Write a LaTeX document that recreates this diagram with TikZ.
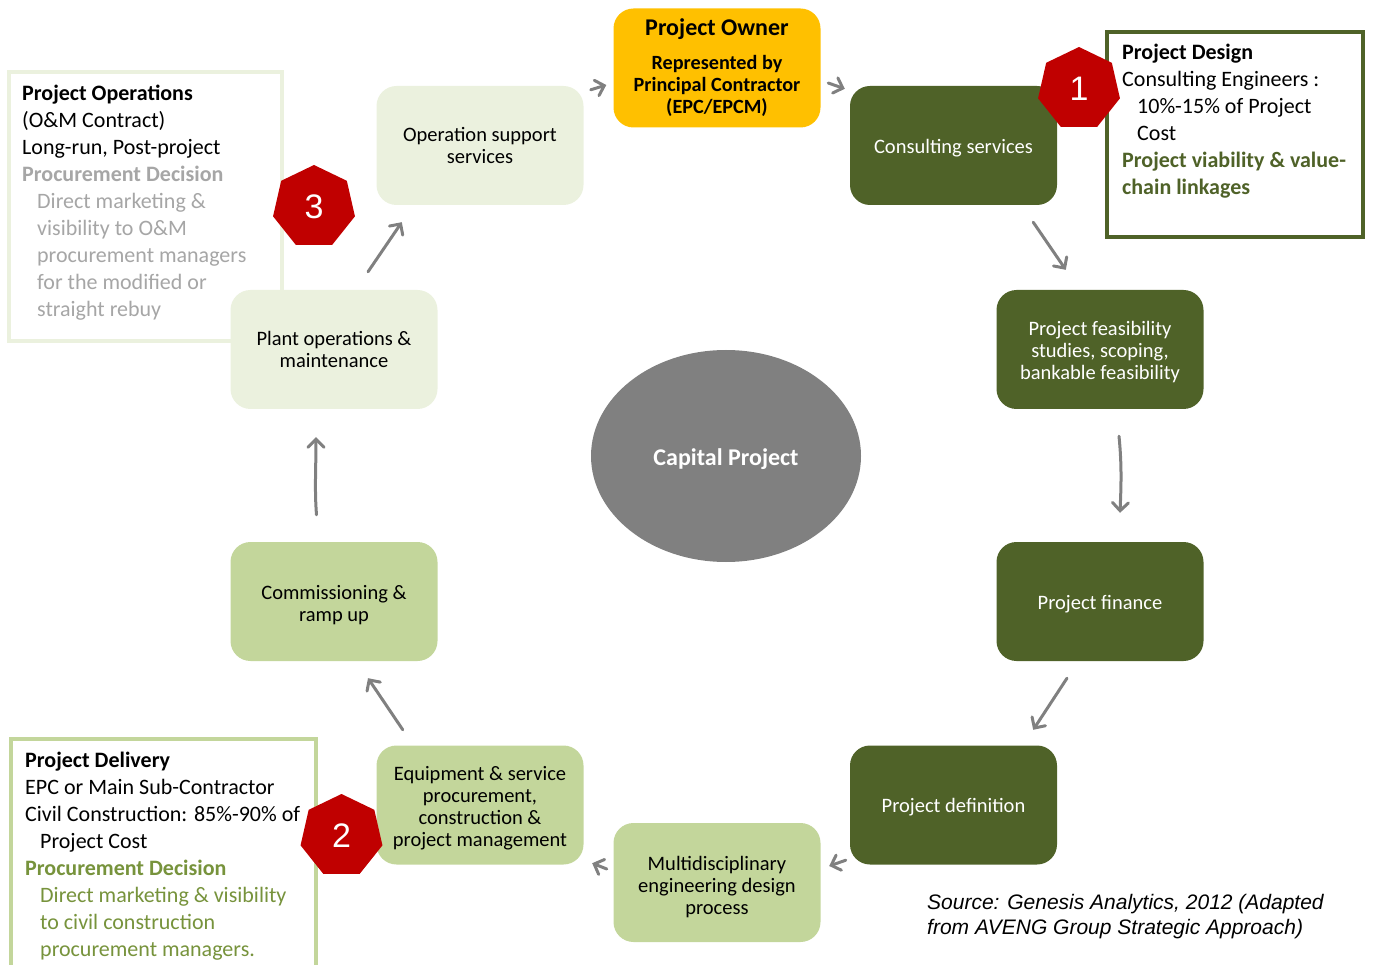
\documentclass[tikz,border=0pt]{standalone}
\usepackage{fontspec}
\setmainfont{Carlito}
\newfontfamily\arialfont{Liberation Sans}
\usetikzlibrary{shapes.geometric,arrows.meta}

\definecolor{darkolive}{HTML}{4F6228}
\definecolor{leafgreen}{HTML}{C3D69B}
\definecolor{palegreen}{HTML}{EBF1DE}
\definecolor{owngold}{HTML}{FFC000}
\definecolor{badgered}{HTML}{C00000}
\definecolor{capgray}{HTML}{808080}
\definecolor{softgray}{HTML}{A6A6A6}
\definecolor{textgreen}{HTML}{77933C}

% raises the first line of a stage label so the text block sits lower
\newcommand{\toppad}[1]{\rule{0pt}{#1pt}}

\begin{document}
\begin{tikzpicture}[x=1pt,y=-1pt,
  stage/.style={rounded corners=20pt, minimum width=207pt, minimum height=119pt,
    align=center, inner sep=0pt, font=\fontsize{20.5}{22}\selectfont,
    execute at begin node={\rule{0pt}{19.5pt}}},
  darkstage/.style={stage, fill=darkolive, text=white},
  midstage/.style={stage, fill=leafgreen, text=black},
  palestage/.style={stage, fill=palegreen, text=black},
  sidebox/.style={draw, line width=4pt, fill=white, inner sep=0pt},
  sidetext/.style={anchor=north west, inner sep=0pt, align=left,
    font=\fontsize{22}{27}\selectfont},
  badge/.style={regular polygon, regular polygon sides=7, minimum size=84pt,
    inner sep=0pt, fill=badgered, text=white,
    font=\arialfont\fontsize{34}{34}\selectfont},
  flow/.style={draw=capgray, line width=3pt, line cap=round,
    -{Straight Barb[length=8pt,width=16pt,line cap=round]}},
]
\path[use as bounding box] (0,0) rectangle (1374,965);
\begin{scope}
\clip (0,0) rectangle (1374,965);

% side panels
\node[sidebox, draw=palegreen, minimum width=273pt, minimum height=269pt] (opsbox) at (145.5,206.5) {};
\node[sidebox, draw=darkolive, minimum width=256pt, minimum height=205pt] (designbox) at (1235,134.5) {};
\node[sidebox, draw=leafgreen, minimum width=305pt, minimum height=251pt] (deliverybox) at (163.5,864.5) {};

\node[sidetext] (opstext) at (22,85) {\textbf{Project Operations}\\
  (O\&M Contract)\\
  Long-run, Post-project\\
  \textcolor{softgray}{\textbf{Procurement Decision}}\\
  \hspace*{15pt}\textcolor{softgray}{Direct marketing \&}\\
  \hspace*{15pt}\textcolor{softgray}{visibility to O\&M}\\
  \hspace*{15pt}\textcolor{softgray}{procurement managers}\\
  \hspace*{15pt}\textcolor{softgray}{for the modified or}\\
  \hspace*{15pt}\textcolor{softgray}{straight rebuy}};

\node[sidetext] (designtext) at (1122,44) {\textbf{Project Design}\\
  Consulting Engineers :\\
  \hspace*{15pt}10\%-15\% of Project\\
  \hspace*{15pt}Cost\\
  \textcolor{darkolive}{\textbf{Project viability \& value-}}\\
  \textcolor{darkolive}{\textbf{chain linkages}}};

\node[sidetext] (deliverytext) at (25,751.5) {\textbf{Project Delivery}\\
  EPC or Main Sub-Contractor\\
  Civil Construction: 85\%-90\% of\\
  \hspace*{15pt}Project Cost\\
  \textcolor{textgreen}{\textbf{Procurement Decision}}\\
  \hspace*{15pt}\textcolor{textgreen}{Direct marketing \& visibility}\\
  \hspace*{15pt}\textcolor{textgreen}{to civil construction}\\
  \hspace*{15pt}\textcolor{textgreen}{procurement managers.}};

% cycle stages
\node[stage, fill=owngold, font=\bfseries\fontsize{20.2}{22}\selectfont] (owner) at (717,68)
  {{\fontsize{24}{24}\selectfont Project Owner}\\[12pt]Represented by\\Principal Contractor\\(EPC/EPCM)};
\node[darkstage] (cons) at (953.5,145.5) {Consulting services};
\node[darkstage] (feas) at (1100,349.5) {\toppad{19}Project feasibility\\studies, scoping,\\bankable feasibility};
\node[darkstage] (fin) at (1100,601.5) {Project finance};
\node[darkstage] (def) at (953.5,805) {Project definition};
\node[midstage] (multi) at (717,882.5) {\toppad{22.5}Multidisciplinary\\engineering design\\process};
\node[midstage] (equip) at (480,805) {\toppad{20.5}Equipment \& service\\procurement,\\construction \&\\project management};
\node[midstage] (comm) at (334,601.5) {\toppad{20.5}Commissioning \&\\ramp up};
\node[palestage] (plant) at (334,349.5) {Plant operations \&\\maintenance};
\node[palestage] (ops) at (480,145.5) {Operation support\\services};

% centre
\node[ellipse, fill=capgray, minimum width=270pt, minimum height=212pt, inner sep=0pt,
  text=white, font=\bfseries\fontsize{24}{24}\selectfont] (cap) at (726,456) {\rule{0pt}{24pt}Capital Project};

% flow arrows
\draw[flow] ([shift={(7,4)}]ops.north east) -- ([shift={(-7,17)}]owner.west);
\draw[flow] ([shift={(7.5,15)}]owner.east) -- ([shift={(-5,3)}]cons.north west);
\draw[flow] ([shift={(-24,17)}]cons.south east) -- ([shift={(69.5,-20)}]feas.north west);
\draw[flow] ([shift={(19,27)}]feas.south) .. controls +(3,30) and +(1,-25) .. ([shift={(20,-29)}]fin.north);
\draw[flow] ([shift={(-33,17)}]fin.south) -- ([shift={(-24,-15.5)}]def.north east);
\draw[flow] ([shift={(-4,-4.5)}]def.south west) -- ([shift={(8.5,-16.5)}]multi.east);
\draw[flow] ([shift={(-6.5,-13.5)}]multi.west) -- ([shift={(8.5,-1.5)}]equip.south east);
\draw[flow] ([shift={(26.5,-15.5)}]equip.north west) -- ([shift={(34,17)}]comm.south);
\draw[flow] ([shift={(-17.5,-27)}]comm.north) .. controls +(-2,-25) and +(0,30) .. ([shift={(-18,28)}]plant.south);
\draw[flow] ([shift={(34,-18)}]plant.north) -- ([shift={(25.5,17)}]ops.south west);

% numbered badges
\node[badge] (b1) at (1079,89) {1};
\node[badge] (b2) at (341.5,836) {2};
\node[badge] (b3) at (314,207) {3};

% source note
\node[anchor=north west, inner sep=0pt, align=left,
  font=\arialfont\itshape\fontsize{21}{25}\selectfont] (source) at (927,894)
  {Source: Genesis Analytics, 2012 (Adapted\\from AVENG Group Strategic Approach)};
\end{scope}
\end{tikzpicture}
\end{document}
